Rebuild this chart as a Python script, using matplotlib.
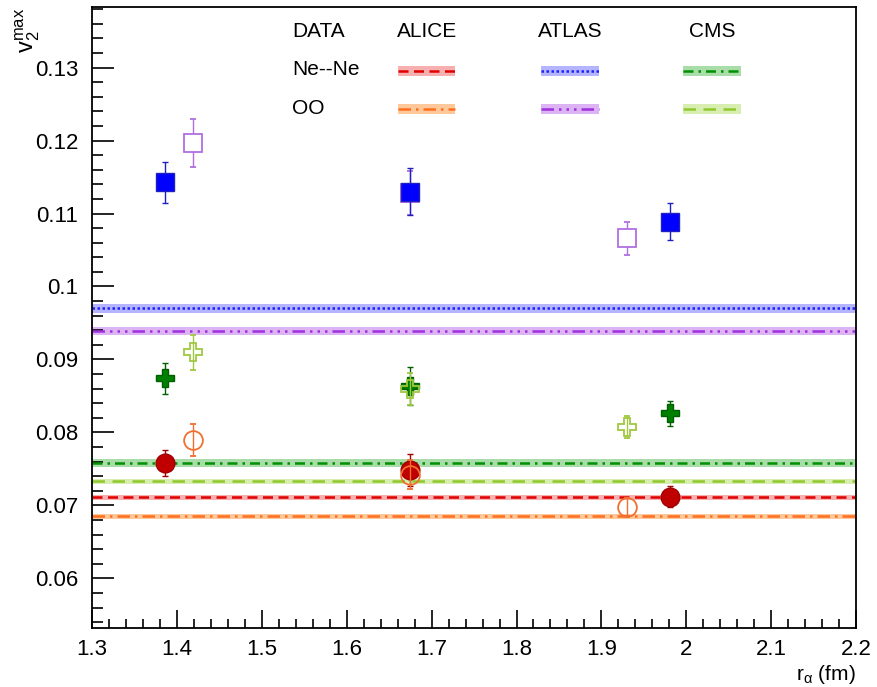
import matplotlib
matplotlib.use("Agg")
import matplotlib.pyplot as plt
from matplotlib.ticker import MultipleLocator

plt.rcParams['font.family'] = ['Liberation Sans', 'DejaVu Sans']
plt.rcParams['mathtext.fontset'] = 'custom'
plt.rcParams['mathtext.rm'] = 'Liberation Sans'
plt.rcParams['mathtext.it'] = 'Liberation Sans'

# data points
x_nene = [1.386, 1.675, 1.981]
x_oo = [1.419, 1.675, 1.930]

atlas_nene = [0.1143, 0.1130, 0.1089]
atlas_nene_err = [0.0028, 0.0032, 0.0025]
atlas_oo = [0.1197, 0.1128, 0.1066]
atlas_oo_err = [0.0033, 0.0030, 0.0023]
cms_nene = [0.0874, 0.0864, 0.0826]
cms_nene_err = [0.0021, 0.0026, 0.0017]
cms_oo = [0.0910, 0.0860, 0.0807]
cms_oo_err = [0.0024, 0.0022, 0.0015]
alice_nene = [0.0758, 0.0748, 0.0712]
alice_nene_err = [0.0018, 0.0022, 0.0014]
alice_oo = [0.0790, 0.0742, 0.0698]
alice_oo_err = [0.0022, 0.0020, 0.0012]

# experimental data bands
bands = {
    ('ALICE', 'Ne--Ne'): (0.0711, 0.0003),
    ('ALICE', 'OO'): (0.0685, 0.0003),
    ('ATLAS', 'Ne--Ne'): (0.0970, 0.0006),
    ('ATLAS', 'OO'): (0.0939, 0.0005),
    ('CMS', 'Ne--Ne'): (0.0758, 0.0006),
    ('CMS', 'OO'): (0.0733, 0.0003),
}
band_style = {
    ('ALICE', 'Ne--Ne'): ('#e00000', '#f7b0b0', (0, (4, 2.2))),
    ('ALICE', 'OO'): ('#ff7020', '#ffc89a', (0, (5, 2, 1, 2))),
    ('ATLAS', 'Ne--Ne'): ('#2020ff', '#b4b4ff', (0, (1, 1))),
    ('ATLAS', 'OO'): ('#a030e0', '#dcb4f4', (0, (5, 2, 1, 2, 1, 2, 1, 2))),
    ('CMS', 'Ne--Ne'): ('#009000', '#a8dca8', (0, (4, 2, 1, 2))),
    ('CMS', 'OO'): ('#90c830', '#d8eeb0', (0, (5, 3))),
}

xmin, xmax = 1.3, 2.2
ymin, ymax = 0.0532, 0.1383

fig = plt.figure(figsize=(8.77, 6.87), dpi=100)
ax = fig.add_axes([0.1049, 0.0859, 0.8713, 0.9039])

for key, (val, hw) in bands.items():
    lc, fc, ls = band_style[key]
    ax.fill_between([xmin, xmax], val - hw, val + hw, color=fc, lw=0, zorder=1)
    ax.axhline(val, color=lc, ls=ls, lw=1.8, zorder=2)

ms = 13.5
ax.errorbar(x_oo, atlas_oo, yerr=atlas_oo_err, fmt='s', ms=ms, mfc='white', mec='#b070e0',
            mew=1.3, ecolor='#b070e0', elinewidth=1, capsize=2, zorder=3)
ax.errorbar(x_nene, atlas_nene, yerr=atlas_nene_err, fmt='s', ms=ms, mfc='#0000ff', mec='#2020c0',
            mew=1, ecolor='#2020c0', elinewidth=1, capsize=2, zorder=4)
ax.errorbar(x_nene, cms_nene, yerr=cms_nene_err, fmt='P', ms=ms, mfc='#008000', mec='#006000',
            mew=1, ecolor='#006000', elinewidth=1, capsize=2, zorder=4)
ax.errorbar(x_oo, cms_oo, yerr=cms_oo_err, fmt='P', ms=ms, mfc='none', mec='#a0c840',
            mew=1.3, ecolor='#a0c840', elinewidth=1, capsize=2, zorder=5)
ax.errorbar(x_nene, alice_nene, yerr=alice_nene_err, fmt='o', ms=ms, mfc='#c00000', mec='#a00000',
            mew=1, ecolor='#a00000', elinewidth=1, capsize=2, zorder=4)
ax.errorbar(x_oo, alice_oo, yerr=alice_oo_err, fmt='o', ms=ms, mfc='none', mec='#f07030',
            mew=1.3, ecolor='#f07030', elinewidth=1, capsize=2, zorder=5)

ax.set_xlim(xmin, xmax)
ax.set_ylim(ymin, ymax)
ax.xaxis.set_minor_locator(MultipleLocator(0.02))
ax.yaxis.set_minor_locator(MultipleLocator(0.002))
ax.set_xticks([1.3, 1.4, 1.5, 1.6, 1.7, 1.8, 1.9, 2.0, 2.1, 2.2])
ax.set_xticklabels(['1.3', '1.4', '1.5', '1.6', '1.7', '1.8', '1.9', '2', '2.1', '2.2'])
ax.set_yticks([0.06, 0.07, 0.08, 0.09, 0.10, 0.11, 0.12, 0.13])
ax.set_yticklabels(['0.06', '0.07', '0.08', '0.09', '0.1', '0.11', '0.12', '0.13'])
ax.tick_params(which='both', direction='in', labelsize=16, width=1.2, top=False, right=False)
ax.tick_params(axis='y', which='major', length=16, pad=10)
ax.tick_params(axis='y', which='minor', length=8)
ax.tick_params(axis='x', which='major', length=13, pad=8)
ax.tick_params(axis='x', which='minor', length=6.5)
for sp in ax.spines.values():
    sp.set_linewidth(1.3)

fig.text(856 / 877, 1 - 674 / 687, r'r$_{\alpha}$ (fm)', fontsize=15, ha='right', va='center')
fig.text(0.032, 0.955, r'v$_2^{\mathrm{max}}$', rotation=90, fontsize=17, ha='center', va='center')

# legend block
fs = 15
ax.text(0.262, 0.961, 'DATA', transform=ax.transAxes, fontsize=fs, va='center')
ax.text(0.262, 0.899, 'Ne--Ne', transform=ax.transAxes, fontsize=fs, va='center')
ax.text(0.262, 0.837, 'OO', transform=ax.transAxes, fontsize=fs, va='center')
exp_cols = {'ALICE': (0.399, 0.4005, 0.475), 'ATLAS': (0.584, 0.5877, 0.6636), 'CMS': (0.781, 0.7736, 0.8495)}
row_y = {'Ne--Ne': 0.897, 'OO': 0.836}
for exp, (tx, x0, x1) in exp_cols.items():
    ax.text(tx, 0.961, exp, transform=ax.transAxes, fontsize=fs, va='center')
    for sys, yy in row_y.items():
        lc, fc, ls = band_style[(exp, sys)]
        ax.fill_between([x0, x1], yy - 0.008, yy + 0.008, color=fc, lw=0, transform=ax.transAxes)
        ax.plot([x0, x1], [yy, yy], color=lc, ls=ls, lw=1.8, transform=ax.transAxes)

fig.savefig('out.png', dpi=100)
